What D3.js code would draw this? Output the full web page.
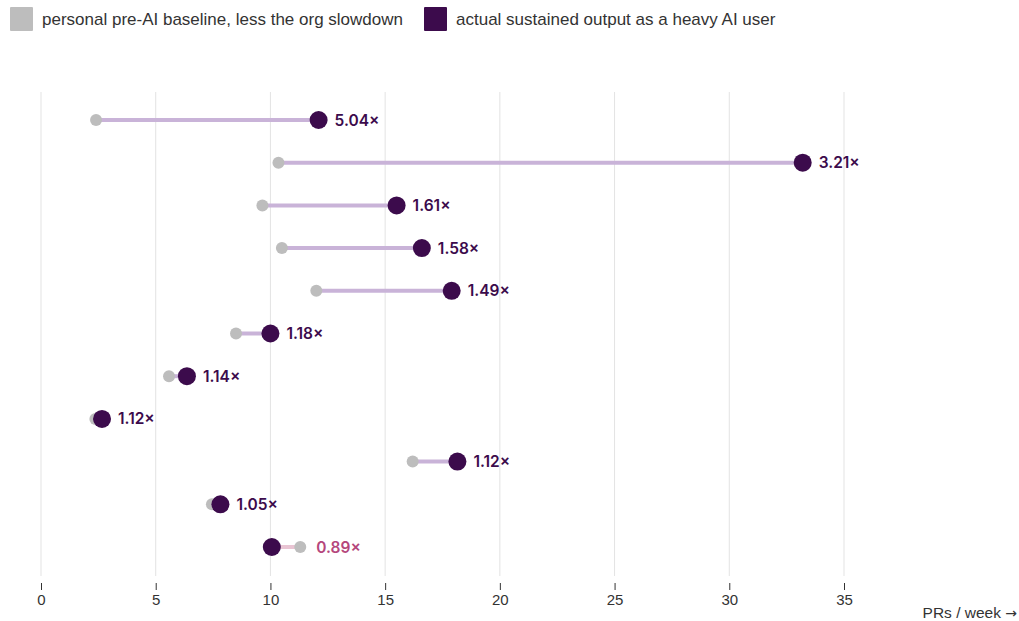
<!DOCTYPE html>
<html><head><meta charset="utf-8">
<script src="https://cdn.jsdelivr.net/npm/d3@7"></script>
<style>
body{margin:0;background:#fff;font-family:"Liberation Sans","Noto Sans",sans-serif;}
</style></head><body>
<svg id="c" width="1019" height="621"></svg>
<script>
const rows = ["r1","r2","r3","r4","r5","r6","r7","r8","r9","r10","r11"];
const baseline = [2.4, 10.35, 9.65, 10.5, 12.0, 8.5, 5.58, 2.37, 16.2, 7.45, 11.3];
const actual   = [12.1, 33.2, 15.5, 16.6, 17.9, 10.0, 6.36, 2.66, 18.15, 7.82, 10.06];
const ratioLabels = ["5.04×","3.21×","1.61×","1.58×","1.49×","1.18×","1.14×","1.12×","1.12×","1.05×","0.89×"];
const xTicks = [0,5,10,15,20,25,30,35];
const legendLabels = ["personal pre-AI baseline, less the org slowdown","actual sustained output as a heavy AI user"];

const svg = d3.select("#c");
const x = d3.scaleLinear().domain([0,35]).range([41,844]);
const y = d3.scalePoint().domain(rows).range([120,547]);

// gridlines
svg.append("g").selectAll("line").data(xTicks).join("line")
  .attr("x1",d=>x(d)).attr("x2",d=>x(d)).attr("y1",92).attr("y2",576)
  .attr("stroke","#e3e3e3").attr("stroke-width",1);

// axis
const ax = svg.append("g").attr("transform","translate(0,583)")
  .call(d3.axisBottom(x).tickValues(xTicks).tickSize(7).tickPadding(4));
ax.select(".domain").remove();
ax.selectAll(".tick line").attr("stroke","#333");
ax.selectAll(".tick text").attr("font-family","'Liberation Sans', sans-serif").attr("font-size",15).attr("fill","#333");

const at = svg.append("text").attr("x",1017).attr("y",618).attr("text-anchor","end")
  .attr("font-size",15.5).attr("fill","#333");
at.append("tspan").text("PRs / week ");
at.append("tspan").attr("font-family","'DejaVu Sans', sans-serif").attr("font-size",14).text("→");

const data = rows.map((r,i)=>({r, b:baseline[i], a:actual[i], lab:ratioLabels[i], down: actual[i]<baseline[i]}));

const g = svg.append("g");
g.selectAll("line.conn").data(data).join("line")
  .attr("x1",d=>x(d.b)).attr("x2",d=>x(d.a)).attr("y1",d=>y(d.r)).attr("y2",d=>y(d.r))
  .attr("stroke",d=>d.down?"#e9c4d3":"#c9b3d8").attr("stroke-width",4);
g.selectAll("circle.b").data(data).join("circle")
  .attr("cx",d=>x(d.b)).attr("cy",d=>y(d.r)).attr("r",6).attr("fill","#bdbdbd");
g.selectAll("circle.a").data(data).join("circle")
  .attr("cx",d=>x(d.a)).attr("cy",d=>y(d.r)).attr("r",9).attr("fill","#3c0b4c");
g.selectAll("text").data(data).join("text")
  .attr("x",d=>x(Math.max(d.a,d.b))+16).attr("y",d=>y(d.r)).attr("dy","0.36em")
  .attr("font-family","Inter, sans-serif")
  .attr("font-size",15.5).attr("font-weight",600)
  .attr("fill",d=>d.down?"#b5477c":"#3c0b4c").text(d=>d.lab);

// legend
const leg = svg.append("g");
const legColors = ["#bdbdbd","#3c0b4c"];
const legX = [10,424];
legendLabels.forEach((t,i)=>{
  leg.append("rect").attr("x",legX[i]).attr("y",7).attr("width",23).attr("height",24).attr("rx",1).attr("fill",legColors[i]);
  leg.append("text").attr("x",legX[i]+32).attr("y",19).attr("dy","0.35em").attr("font-size",17).attr("fill","#333").text(t);
});
</script></body></html>
